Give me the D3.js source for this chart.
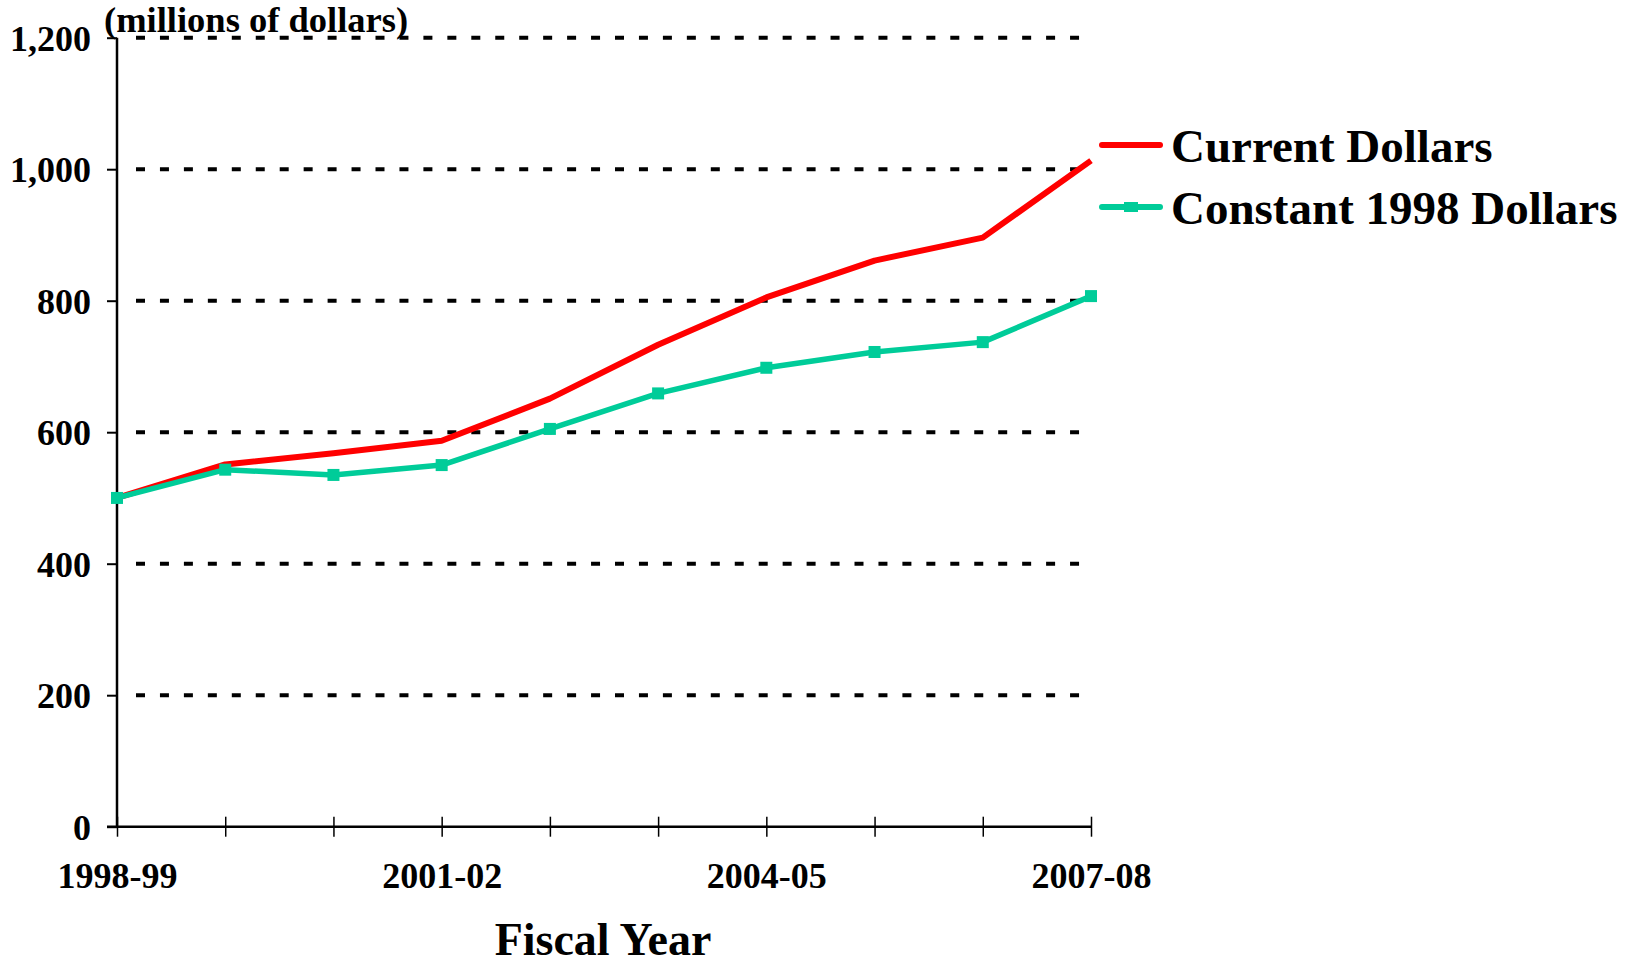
<!DOCTYPE html>
<html>
<head>
<meta charset="utf-8">
<script src="https://cdn.jsdelivr.net/npm/d3@7"></script>
<style>
  body { margin: 0; background: #fff; }
  text { font-family: "Liberation Serif", "Times New Roman", serif; font-weight: bold; fill: #000; }
</style>
</head>
<body>
<div id="chart"></div>
<script>
// fiscal years on the x axis, only every third one gets a label
const years = ["1998-99", "1999-00", "2000-01", "2001-02", "2002-03", "2003-04", "2004-05", "2005-06", "2006-07", "2007-08"]
const labelledYears = ["1998-99", "2001-02", "2004-05", "2007-08"]

// millions of dollars
const currentDollars = [500, 551, 568, 587, 651, 733, 805, 861, 896, 1013]
const constantDollars = [500, 543, 535, 550, 605, 659, 698, 722, 737, 807]

const yTicks = [0, 200, 400, 600, 800, 1000, 1200]

const seriesNames = ["Current Dollars", "Constant 1998 Dollars"]
const seriesColors = ["#ff0000", "#00cc99"]

const fullWidth = 1631
const fullHeight = 966

// plot area (window.top is taken, so plotTop etc)
const plotLeft = 117
const plotRight = 1091
const plotTop = 37.7
const plotBottom = 826.7

const svg = d3.select("#chart")
    .append("svg")
    .attr("width", fullWidth)
    .attr("height", fullHeight)

const x = d3.scalePoint()
    .domain(years)
    .range([plotLeft, plotRight])

const y = d3.scaleLinear()
    .domain([0, 1200])
    .range([plotBottom, plotTop])

// dotted gridlines
svg.selectAll(".grid")
    .data(yTicks.filter(d => d > 0))
    .join("line")
    .attr("class", "grid")
    .attr("x1", 136)
    .attr("x2", 1081)
    .attr("y1", d => y(d))
    .attr("y2", d => y(d))
    .attr("stroke", "#000")
    .attr("stroke-width", 4)
    .attr("stroke-dasharray", "9,14.95")

// y axis
const yAxis = svg.append("g")
    .attr("transform", `translate(${plotLeft},0)`)
    .call(d3.axisLeft(y).tickValues(yTicks).tickSize(10).tickPadding(16).tickFormat(d3.format(",")))
yAxis.select(".domain").attr("d", `M0,${plotTop}V${plotBottom}`).attr("stroke-width", 2.5)
yAxis.selectAll(".tick line").attr("stroke-width", 2)
yAxis.selectAll(".tick text")
    .attr("font-size", 36)
    .attr("dy", "0.35em")

// x axis
const xAxis = svg.append("g")
    .attr("transform", `translate(0,${plotBottom})`)
    .call(d3.axisBottom(x).tickSize(10).tickFormat(d => labelledYears.includes(d) ? d : ""))
xAxis.select(".domain").attr("d", `M${plotLeft - 10},0H${plotRight}`).attr("stroke-width", 2.5)
xAxis.selectAll(".tick line").attr("y1", -10).attr("y2", 10).attr("stroke-width", 1.5)
xAxis.selectAll(".tick text")
    .attr("font-size", 36)
    .attr("y", 61)
    .attr("dy", 0)

// lines
const line = d3.line()
    .x((d, i) => x(years[i]))
    .y(d => y(d))

svg.append("path")
    .datum(currentDollars)
    .attr("d", line)
    .attr("fill", "none")
    .attr("stroke", seriesColors[0])
    .attr("stroke-width", 6)
    .attr("stroke-linejoin", "round")

svg.append("path")
    .datum(constantDollars)
    .attr("d", line)
    .attr("fill", "none")
    .attr("stroke", seriesColors[1])
    .attr("stroke-width", 5.5)
    .attr("stroke-linejoin", "round")

svg.selectAll(".marker")
    .data(constantDollars)
    .join("rect")
    .attr("class", "marker")
    .attr("x", (d, i) => x(years[i]) - 6)
    .attr("y", d => y(d) - 6)
    .attr("width", 12)
    .attr("height", 12)
    .attr("fill", seriesColors[1])

// unit label
svg.append("text")
    .attr("x", 104)
    .attr("y", 32)
    .attr("font-size", 36.5)
    .text("(millions of dollars)")

// axis title
svg.append("text")
    .attr("x", 603)
    .attr("y", 955)
    .attr("text-anchor", "middle")
    .attr("font-size", 46)
    .text("Fiscal Year")

// legend
const legend = svg.selectAll(".legend")
    .data(seriesNames)
    .join("g")
    .attr("class", "legend")
    .attr("transform", (d, i) => `translate(1102,${145 + i * 62})`)

legend.append("line")
    .attr("x1", 0)
    .attr("x2", 58)
    .attr("stroke", (d, i) => seriesColors[i])
    .attr("stroke-width", 6)
    .attr("stroke-linecap", "round")

legend.filter((d, i) => i == 1)
    .append("rect")
    .attr("x", 22)
    .attr("y", -5)
    .attr("width", 14)
    .attr("height", 10)
    .attr("fill", seriesColors[1])

legend.append("text")
    .attr("x", 69)
    .attr("y", 17)
    .attr("font-size", 47)
    .text(d => d)
</script>
</body>
</html>
